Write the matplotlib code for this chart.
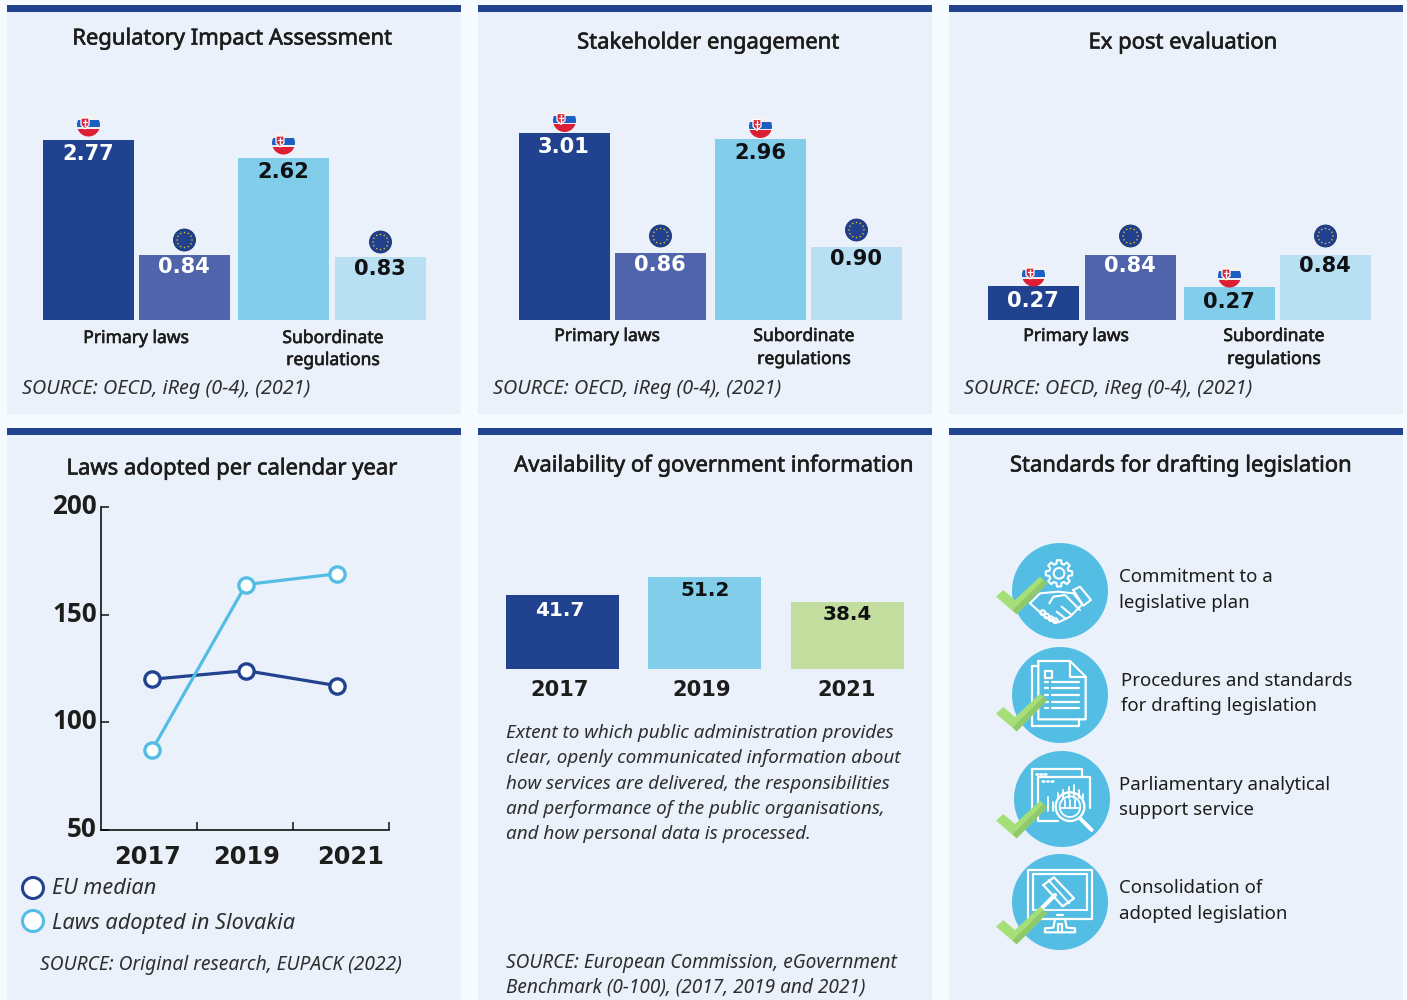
import numpy as np
import matplotlib
matplotlib.use("Agg")
import matplotlib.pyplot as plt
import matplotlib.patheffects as pe
from matplotlib.patches import Circle, Polygon, Rectangle
from matplotlib.transforms import ScaledTranslation

W, H = 1407, 1000

# bar panels: labels are the printed scores, the drawn lengths do not scale with
# them in the source so those are read off the picture on their own
ria_labels = ["2.77", "0.84", "2.62", "0.83"]
ria_lengths = [180, 65, 162, 63]
stake_labels = ["3.01", "0.86", "2.96", "0.90"]
stake_lengths = [187, 67, 181, 73]
expost_labels = ["0.27", "0.84", "0.27", "0.84"]
expost_lengths = [34, 65, 33, 65]
bar_groups = ["Primary laws", "Subordinate\nregulations"]

years_line = ["2017", "2019", "2021"]
eu_median = [120, 124, 117]
laws_slovakia = [87, 164, 169]
y_ticks = [50, 100, 150, 200]

years_info = ["2017", "2019", "2021"]
gov_info = [41.7, 51.2, 38.4]

standards = ["Commitment to a\nlegislative plan",
             "Procedures and standards\nfor drafting legislation",
             "Parliamentary analytical\nsupport service",
             "Consolidation of\nadopted legislation"]

DARK = "#21438F"
MID = "#5064AB"
LIGHT = "#82CDEA"
PALE = "#B9DFF2"
GREEN = "#C2DD9D"
CYAN = "#53BDE3"
PANEL = "#EAF1FA"
INK = "#1D1D1B"
SOFT = "#2E2E2E"
BODY = "Noto Sans"
NUM = "DejaVu Sans"


def pt(px):
    return px * 0.72


def axes_px(x0, y0, x1, y1):
    return fig.add_axes([x0 / W, 1 - y1 / H, (x1 - x0) / W, (y1 - y0) / H])


fig = plt.figure(figsize=(W / 100, H / 100), dpi=100, facecolor="#F6FBFF")

# page layer in pixel coordinates
page = fig.add_axes([0, 0, 1, 1], zorder=0)
page.set_xlim(0, W)
page.set_ylim(H, 0)
page.axis("off")
top = fig.add_axes([0, 0, 1, 1], zorder=5)
top.set_xlim(0, W)
top.set_ylim(H, 0)
top.axis("off")

for x in [7, 478, 949]:
    page.add_patch(Rectangle((x, 5), 454, 409, fc=PANEL, ec="none"))
    page.add_patch(Rectangle((x, 5), 454, 7, fc=DARK, ec="none"))
    page.add_patch(Rectangle((x, 428), 454, 572, fc=PANEL, ec="none"))
    page.add_patch(Rectangle((x, 428), 454, 7, fc=DARK, ec="none"))


def label(x, y, s, size=20, style="normal", ha="left", color=INK, medium=False):
    # y is the wanted centre, Noto Sans sits about 2px high when centred
    t = top.text(x, y + 2, s, fontsize=pt(size), fontstyle=style, ha=ha, va="center", color=color, family=BODY)
    if medium:
        t.set_path_effects([pe.withStroke(linewidth=0.45, foreground=color)])


def number(x, y, s, size, color=INK):
    top.text(x, y + 2, s, fontsize=pt(size), fontweight="bold", ha="center", va="center",
             family=NUM, color=color, zorder=6)


titles = [(232, 37, "Regulatory Impact Assessment"), (708, 41, "Stakeholder engagement"),
          (1183, 41, "Ex post evaluation"), (232, 467, "Laws adopted per calendar year"),
          (714, 464, "Availability of government information"),
          (1181, 464, "Standards for drafting legislation")]
for x, y, s in titles:
    label(x, y, s, size=22, ha="center", medium=True)


def sk_flag(cx, cy, r=11.5):
    clip = Circle((cx, cy), r, transform=top.transData)
    bands = [(-r, 6.5, "#F1F1F1"), (-r + 6.5, 7, "#1C5FC4"), (-r + 13.5, 1.5, "#EDEFF5"), (-r + 15, 9, "#DD1F35")]
    for y0, h, c in bands:
        p = Rectangle((cx - r, cy + y0), 2 * r, h, fc=c, ec="none", zorder=3)
        top.add_patch(p)
        p.set_clip_path(clip)
    sx = cx - 3.5
    top.add_patch(Polygon([(sx - 4, cy - 7), (sx + 4, cy - 7), (sx + 4, cy), (sx, cy + 4), (sx - 4, cy)],
                          fc="#D8283C", ec="white", lw=0.9, zorder=4))
    top.plot([sx, sx], [cy - 5.5, cy + 1], color="white", lw=1, zorder=5)
    top.plot([sx - 2, sx + 2], [cy - 3, cy - 3], color="white", lw=0.8, zorder=5)


def eu_flag(cx, cy, r=11):
    top.add_patch(Circle((cx, cy), r, fc="#21408E", ec="#16306F", lw=0.6, zorder=3))
    for a in np.arange(12) * np.pi / 6:
        top.add_patch(Circle((cx + 7.5 * np.cos(a), cy + 7.5 * np.sin(a)), 0.75, fc="#E8C33A", ec="none", zorder=4))


def bar_panel(lefts, lengths, labels, sk_off, eu_off, text_off, group_x, group_y):
    # x axis runs in page pixels so the uneven gaps of the source survive
    x0, x1 = lefts[0], lefts[-1] + 91
    ax = axes_px(x0, 100, x1, 320)
    ax.patch.set_alpha(0)
    centers = np.array(lefts) + 45.5
    ax.bar(centers, lengths, width=91, color=[DARK, MID, LIGHT, PALE])
    ax.set_xlim(x0, x1)
    ax.set_ylim(0, 220)
    ax.axis("off")
    for i, (v, s) in enumerate(zip(lengths, labels)):
        bar_top = 320 - v
        if i % 2 == 0:
            sk_flag(centers[i], bar_top - sk_off)
        else:
            eu_flag(centers[i], bar_top - eu_off)
        number(centers[i] - 0.5, bar_top + text_off[i % 2], s, 21, "white" if i < 2 else "#0F1114")
    label(group_x[0], group_y[0], bar_groups[0], size=17.5, ha="center", medium=True)
    a, b = bar_groups[1].split("\n")
    label(group_x[1], group_y[0], a, size=17.5, ha="center", medium=True)
    label(group_x[1], group_y[1], b, size=17.5, ha="center", medium=True)


bar_panel([43, 139, 238, 335], ria_lengths, ria_labels, 15, 15, (12, 10), (136, 333), (336, 358))
bar_panel([519, 615, 715, 811], stake_lengths, stake_labels, 12.5, 17, (12, 10), (607, 804), (334, 357))
bar_panel([988, 1085, 1184, 1280], expost_lengths, expost_labels, 11, 19, (13, 9), (1076, 1274), (334, 357))
for x in [22, 493, 964]:
    label(x, 387, "SOURCE: OECD, iReg (0-4), (2021)", size=19.8, style="italic", color=SOFT)

# line chart
ax = axes_px(101, 507, 389, 830)
ax.patch.set_alpha(0)
xpos = [0.53, 1.51, 2.46]
for vals, c in [(eu_median, DARK), (laws_slovakia, CYAN)]:
    ax.plot(xpos, vals, color=c, lw=2.3, marker="o", ms=11, mfc="white", mew=2.4, clip_on=False)
ax.set_xlim(0, 3)
ax.set_ylim(50, 200)
ax.set_xticks([1, 2, 3], ["", "", ""])
ax.set_yticks(y_ticks)
ax.set_yticklabels(y_ticks, fontsize=pt(26), fontweight="bold", family="Open Sans", color=INK)
ax.tick_params(axis="x", direction="in", length=6, width=1.1, color="#111111")
ax.tick_params(axis="y", direction="in", length=6, width=1.1, color="#111111", pad=3)
for lab in ax.get_yticklabels():
    lab.set_transform(lab.get_transform() + ScaledTranslation(0, 3.5 / 100, fig.dpi_scale_trans))
for side in ["top", "right"]:
    ax.spines[side].set_visible(False)
for side in ["left", "bottom"]:
    ax.spines[side].set_linewidth(1.1)
for x, s in zip([147, 247, 351], years_line):
    number(x, 855, s, 24)

top.add_patch(Circle((33, 888), 10.5, fc="white", ec=DARK, lw=2.2))
top.add_patch(Circle((33, 921), 10.5, fc="white", ec=CYAN, lw=2.2))
label(52, 887, "EU median", size=21.7, style="italic", color=SOFT)
label(52, 921, "Laws adopted in Slovakia", size=21.7, style="italic", color=SOFT)
label(40, 963, "SOURCE: Original research, EUPACK (2022)", size=19.2, style="italic", color=SOFT)

# availability bars, axis floor sits above zero in the source
ax = axes_px(506, 500, 904, 669)
ax.patch.set_alpha(0)
info_centers = [562.5, 704.5, 847.5]
ax.bar(info_centers, gov_info, width=113, color=[DARK, LIGHT, GREEN])
ax.set_xlim(506, 904)
base = 4
ax.set_ylim(base, base + 169 / 1.95)
ax.axis("off")
for x, y, v, c in zip([560, 705, 847], [609, 590, 613], gov_info, ["white", "#0F1114", "#0F1114"]):
    number(x, y - 1, f"{v:.1f}", 20, c)
for x, s in zip([560, 702, 847], years_info):
    number(x, 688, s, 21)

para = ["Extent to which public administration provides",
        "clear, openly communicated information about",
        "how services are delivered, the responsibilities",
        "and performance of the public organisations,",
        "and how personal data is processed."]
for y, s in zip([731, 756, 782, 807, 832], para):
    label(506, y, s, size=18.9, style="italic", color=SOFT)
label(506, 961, "SOURCE: European Commission, eGovernment", size=19.05, style="italic", color=SOFT)
label(506, 986, "Benchmark (0-100), (2017, 2019 and 2021)", size=19.05, style="italic", color=SOFT)


# icons, coordinates taken at 3x from the top left of a crop
def mapper(ox, oy):
    return lambda pts: [(ox + a / 3, oy + b / 3) for a, b in pts]


def stroke(m, pts, lw=1.5, closed=False):
    p = m(pts + pts[:1] if closed else pts)
    top.plot([q[0] for q in p], [q[1] for q in p], color="white", lw=lw, solid_capstyle="round", zorder=3)


def ring(m, c, r, lw=1.5):
    (x, y), = m([c])
    top.add_patch(Circle((x, y), r / 3, fc="none", ec="white", lw=lw, zorder=3))


def check(dy):
    m = mapper(990, 535 + dy)
    top.add_patch(Polygon(m([(18, 185), (40, 165), (75, 195), (150, 125), (172, 145), (80, 238)]),
                          fc="#A6DF78", ec="none", zorder=4))
    top.add_patch(Polygon(m([(172, 145), (80, 238), (68, 226), (160, 135)]), fc="#8FC96C", ec="none", zorder=4))


for cx, cy in [(1060, 591), (1060, 695), (1062, 799), (1060, 902)]:
    top.add_patch(Circle((cx, cy), 48, fc=CYAN, ec="none", zorder=2))

# gear and handshake
m = mapper(990, 535)
ring(m, (207, 115), 16)
teeth = []
for a in np.arange(0, 360, 45):
    for d, r in [(-15, 30), (-9, 40), (9, 40), (15, 30)]:
        t = np.radians(a + d)
        teeth.append((207 + r * np.cos(t), 115 + r * np.sin(t)))
stroke(m, teeth, closed=True)
stroke(m, [(250, 165), (270, 155), (303, 195), (280, 212)], closed=True)
stroke(m, [(120, 205), (150, 175), (205, 170), (250, 175), (277, 208), (240, 245), (205, 262), (165, 245), (120, 205)])
stroke(m, [(178, 205), (190, 185), (225, 180), (270, 225)])
stroke(m, [(215, 215), (245, 240)])
stroke(m, [(200, 230), (228, 252)])
for c in [(158, 233), (170, 243), (183, 251), (196, 257)]:
    ring(m, c, 7)

# documents
m = mapper(990, 535)
stroke(m, [(145, 393), (125, 393), (125, 572), (268, 572), (268, 553)], lw=1.6)
stroke(m, [(145, 378), (240, 378), (287, 425), (287, 553), (145, 553)], lw=1.6, closed=True)
stroke(m, [(240, 378), (240, 425), (287, 425)], lw=1.6)
stroke(m, [(165, 408), (187, 408), (187, 430), (165, 430)], lw=1.6, closed=True)
for y in [440, 460, 480, 500, 520]:
    stroke(m, [(165, y), (175, y)], lw=1.6)
    stroke(m, [(185, y), (268, y)], lw=1.6)

# analysis window
m = mapper(990, 745)
stroke(m, [(125, 190), (125, 72), (275, 72), (275, 95)], lw=1.6)
stroke(m, [(145, 97), (300, 97), (300, 190)], lw=1.6)
stroke(m, [(145, 97), (145, 228), (205, 228)], lw=1.6)
for x in [138, 150, 163]:
    stroke(m, [(x, 86), (x + 5, 86)], lw=1.8)
for x in [157, 170, 183]:
    stroke(m, [(x, 109), (x + 5, 109)], lw=1.8)
for x, y0 in [(175, 155), (190, 170), (205, 145), (220, 135), (237, 125), (252, 120), (267, 135), (280, 148)]:
    stroke(m, [(x, y0), (x, 198 if x < 200 else 160)], lw=1.3)
ring(m, (240, 185), 43, lw=1.7)
ring(m, (240, 185), 31, lw=1.3)
for x in [225, 240, 255]:
    stroke(m, [(x, 165), (x, 190)], lw=1.3)
stroke(m, [(212, 190), (268, 190)], lw=1.3)
stroke(m, [(272, 222), (305, 255)], lw=2.8)

# monitor and gavel
m = mapper(990, 745)
stroke(m, [(115, 522), (115, 375), (305, 375), (305, 522)], lw=1.6, closed=True)
stroke(m, [(128, 495), (128, 388), (292, 388), (292, 495)], lw=1.6)
stroke(m, [(128, 495), (292, 495)], lw=1.3)
stroke(m, [(195, 522), (190, 548), (165, 550), (165, 562), (255, 562), (255, 550), (230, 548), (225, 522)], lw=1.6)
stroke(m, [(203, 562), (203, 538), (217, 538), (217, 562)], lw=1.6)
stroke(m, [(202, 510), (218, 510)], lw=1.6)
stroke(m, [(160, 420), (192, 397), (252, 460), (218, 484)], lw=1.6, closed=True)
stroke(m, [(175, 405), (238, 475)], lw=1.3)
stroke(m, [(195, 450), (140, 505)], lw=3)

for dy in [0, 117, 224, 330]:
    check(dy)

text_pos = [(1119, 575, 601), (1121, 679, 704), (1119, 783, 808), (1119, 886, 912)]
for (x, y1, y2), s in zip(text_pos, standards):
    a, b = s.split("\n")
    label(x, y1, a, size=18.6)
    label(x, y2, b, size=18.6)

fig.savefig("out.png", dpi=100, facecolor=fig.get_facecolor())
